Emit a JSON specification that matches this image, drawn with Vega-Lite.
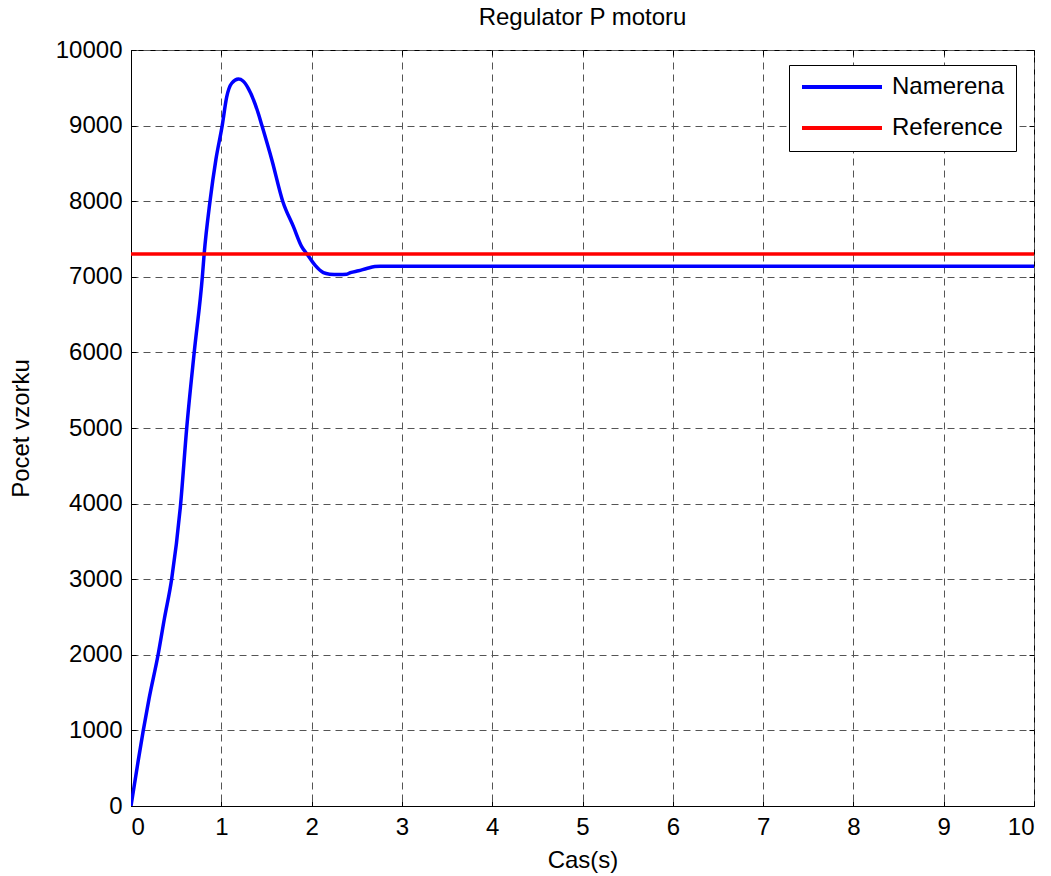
{
  "$schema": "https://vega.github.io/schema/vega-lite/v6.json",
  "autosize": "none",
  "width": 903,
  "height": 756,
  "padding": {"left": 131, "top": 50, "right": 17, "bottom": 70},
  "background": "white",
  "config": {
    "font": "Liberation Sans",
    "view": {"stroke": "black", "strokeWidth": 1},
    "axis": {
      "labelFont": "Liberation Sans",
      "titleFont": "Liberation Sans",
      "labelFontSize": 24,
      "titleFontSize": 24,
      "titleFontWeight": "normal",
      "labelColor": "black",
      "titleColor": "black",
      "domainColor": "black",
      "tickColor": "black",
      "gridColor": "#555555",
      "gridDash": [7, 5],
      "gridWidth": 1,
      "gridOpacity": 1
    }
  },
  "title": {
    "text": "Regulator P motoru",
    "font": "Liberation Sans",
    "fontSize": 24,
    "fontWeight": "normal",
    "color": "black",
    "anchor": "middle",
    "frame": "group",
    "offset": 8
  },
  "data": {
    "values": [
      {"t": 0, "v": 0, "series": "Namerena"},
      {"t": 0.04, "v": 300, "series": "Namerena"},
      {"t": 0.08, "v": 600, "series": "Namerena"},
      {"t": 0.136, "v": 1000, "series": "Namerena"},
      {"t": 0.2, "v": 1420, "series": "Namerena"},
      {"t": 0.3, "v": 2000, "series": "Namerena"},
      {"t": 0.37, "v": 2480, "series": "Namerena"},
      {"t": 0.45, "v": 3000, "series": "Namerena"},
      {"t": 0.55, "v": 4000, "series": "Namerena"},
      {"t": 0.617, "v": 5000, "series": "Namerena"},
      {"t": 0.7, "v": 6000, "series": "Namerena"},
      {"t": 0.79, "v": 7000, "series": "Namerena"},
      {"t": 0.81, "v": 7300, "series": "Namerena"},
      {"t": 0.875, "v": 8000, "series": "Namerena"},
      {"t": 0.94, "v": 8550, "series": "Namerena"},
      {"t": 1.01, "v": 9000, "series": "Namerena"},
      {"t": 1.06, "v": 9380, "series": "Namerena"},
      {"t": 1.115, "v": 9560, "series": "Namerena"},
      {"t": 1.19, "v": 9615, "series": "Namerena"},
      {"t": 1.24, "v": 9590, "series": "Namerena"},
      {"t": 1.3, "v": 9490, "series": "Namerena"},
      {"t": 1.41, "v": 9160, "series": "Namerena"},
      {"t": 1.45, "v": 9000, "series": "Namerena"},
      {"t": 1.56, "v": 8545, "series": "Namerena"},
      {"t": 1.68, "v": 8000, "series": "Namerena"},
      {"t": 1.8, "v": 7660, "series": "Namerena"},
      {"t": 1.89, "v": 7400, "series": "Namerena"},
      {"t": 1.95, "v": 7300, "series": "Namerena"},
      {"t": 2.04, "v": 7150, "series": "Namerena"},
      {"t": 2.13, "v": 7055, "series": "Namerena"},
      {"t": 2.2, "v": 7035, "series": "Namerena"},
      {"t": 2.3, "v": 7030, "series": "Namerena"},
      {"t": 2.39, "v": 7035, "series": "Namerena"},
      {"t": 2.43, "v": 7055, "series": "Namerena"},
      {"t": 2.52, "v": 7080, "series": "Namerena"},
      {"t": 2.61, "v": 7110, "series": "Namerena"},
      {"t": 2.7, "v": 7135, "series": "Namerena"},
      {"t": 2.76, "v": 7140, "series": "Namerena"},
      {"t": 10, "v": 7140, "series": "Namerena"},
      {"t": 0, "v": 7300, "series": "Reference"},
      {"t": 10, "v": 7300, "series": "Reference"}
    ]
  },
  "layer": [
    {
      "mark": {"type": "line", "strokeWidth": 3.5, "clip": true, "interpolate": "monotone"},
      "encoding": {
        "x": {
          "field": "t",
          "type": "quantitative",
          "scale": {"domain": [0, 10], "nice": false, "zero": false},
          "axis": {
            "title": "Cas(s)",
            "values": [0, 1, 2, 3, 4, 5, 6, 7, 8, 9, 10],
            "format": "d",
            "tickSize": -5,
            "labelPadding": 14,
            "titlePadding": 9,
            "grid": true
          }
        },
        "y": {
          "field": "v",
          "type": "quantitative",
          "scale": {"domain": [0, 10000], "nice": false},
          "axis": {
            "title": "Pocet vzorku",
            "values": [0, 1000, 2000, 3000, 4000, 5000, 6000, 7000, 8000, 9000, 10000],
            "format": "d",
            "tickSize": -5,
            "labelPadding": 14,
            "titlePadding": 22,
            "grid": true
          }
        },
        "color": {
          "field": "series",
          "type": "nominal",
          "scale": {"domain": ["Namerena", "Reference"], "range": ["#0000ff", "#ff0000"]},
          "legend": {
            "title": null,
            "orient": "none",
            "legendX": 658,
            "legendY": 15,
            "symbolType": "stroke",
            "symbolSize": 6400,
            "symbolStrokeWidth": 4,
            "clipHeight": 22,
            "rowPadding": 17,
            "labelFontSize": 24,
            "labelFont": "Liberation Sans",
            "labelColor": "black",
            "labelOffset": 8,
            "padding": 11,
            "fillColor": "white",
            "strokeColor": "black"
          }
        }
      }
    },
    {
      "mark": {"type": "line", "strokeOpacity": 0},
      "encoding": {
        "x": {
          "field": "t",
          "type": "quantitative",
          "scale": {"domain": [0, 10], "nice": false, "zero": false},
          "axis": {
            "orient": "top",
            "title": null,
            "labels": false,
            "grid": false,
            "domain": false,
            "values": [0, 1, 2, 3, 4, 5, 6, 7, 8, 9, 10],
            "tickSize": -5
          }
        },
        "y": {
          "field": "v",
          "type": "quantitative",
          "scale": {"domain": [0, 10000], "nice": false},
          "axis": {
            "orient": "right",
            "title": null,
            "labels": false,
            "grid": false,
            "domain": false,
            "values": [0, 1000, 2000, 3000, 4000, 5000, 6000, 7000, 8000, 9000, 10000],
            "tickSize": -5
          }
        },
        "detail": {"field": "series", "type": "nominal"}
      }
    }
  ],
  "resolve": {"axis": {"x": "independent", "y": "independent"}}
}
